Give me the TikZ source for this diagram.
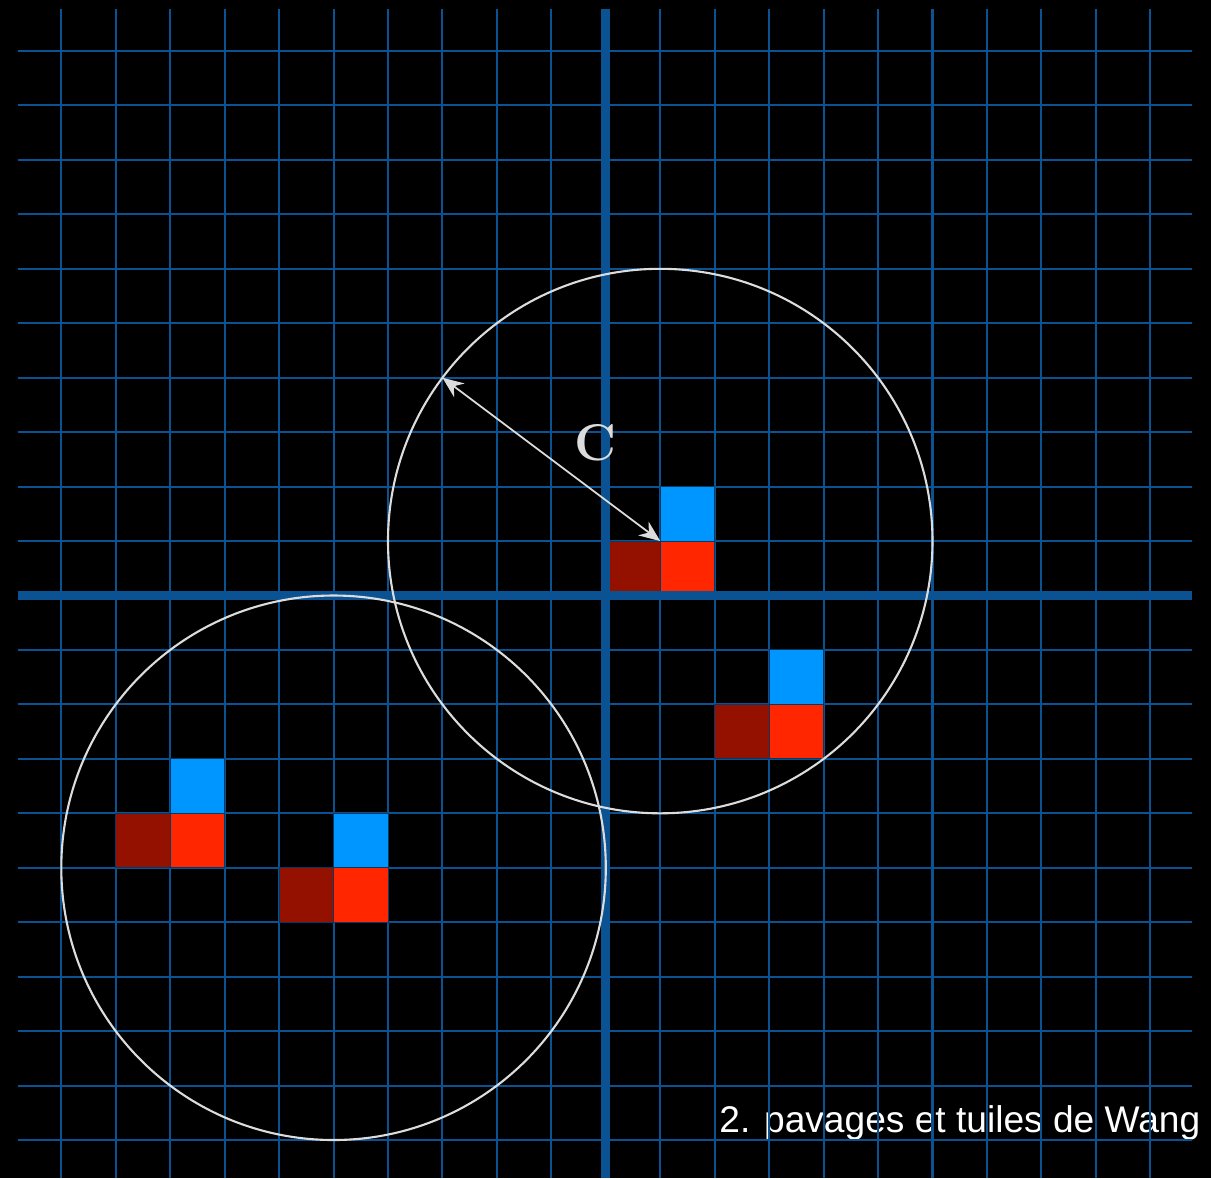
\documentclass[tikz,border=0pt]{standalone}
\usepackage{fontspec}
\newfontfamily\titlefont{Liberation Sans}
\usepackage{tikz}
\usetikzlibrary{arrows.meta, calc}
\definecolor{gridblue}{RGB}{10,82,146}
\definecolor{tileblue}{RGB}{0,150,255}
\definecolor{tilered}{RGB}{255,38,0}
\definecolor{tiledark}{RGB}{148,17,0}
\definecolor{ringgray}{RGB}{220,220,220}
\tikzset{
  thin grid/.style={gridblue, line width=1.05pt},
  axis line/.style={gridblue, line width=4.6pt},
  ring/.style={ringgray, line width=1.1pt},
  tile/.style={draw=gridblue!70!black, line width=0.5pt},
  radius arrow/.style={ringgray, line width=0.9pt,
    {Stealth[length=11pt,width=9pt]}-{Stealth[length=11pt,width=9pt]}}
}

\begin{document}
\begin{tikzpicture}
    \fill[black] (-11.126,-10.698) rectangle (11.115,10.937);
    \useasboundingbox (-11.126,-10.698) rectangle (11.115,10.937);
    \node[anchor=base west, inner sep=0, text=white,
      font=\titlefont\fontsize{19.4}{22}\selectfont] (title) at (2.08,-9.866) {2. pavages et tuiles de Wang};
    % grid
    \foreach \k in {-10,...,10} {
      \draw[thin grid] (\k,10.77) -- (\k,-10.7);
      \draw[thin grid] (-10.8,\k) -- (10.77,\k);
    }
    % tiles
    \foreach \x/\y in {0/0, 2/-3, -9/-5, -6/-6} {
      \filldraw[tile, fill=tiledark] (\x,\y) rectangle ++(1,1);
      \filldraw[tile, fill=tilered] (\x+1,\y) rectangle ++(1,1);
      \filldraw[tile, fill=tileblue] (\x+1,\y+1) rectangle ++(1,1);
    }
    % axes
    \draw[axis line] (0,10.77) -- (0,-10.7);
    \draw[axis line] (-10.8,0) -- (10.77,0);
    % circles
    \coordinate (c1) at (1,1);
    \coordinate (c2) at (-5,-5);
    \coordinate (rim) at (-3,4);
    \draw[ring] (c1) circle (5);
    \draw[ring] (c2) circle (5);
    \draw[radius arrow] (rim) -- (c1);
    \node[text=ringgray, font=\fontsize{27}{30}\selectfont\bfseries] (clabel) at (-0.18,2.8) {C};
\end{tikzpicture}
\end{document}
